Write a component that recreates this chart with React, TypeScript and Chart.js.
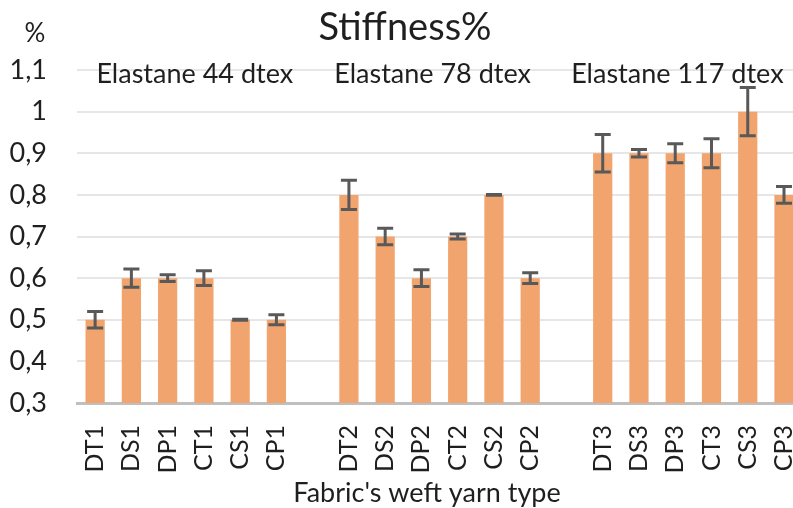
import React, { useEffect, useRef } from "react";
import { Chart, registerables } from "chart.js";

Chart.register(...registerables);

const categories = [
  "DT1", "DS1", "DP1", "CT1", "CS1", "CP1", "",
  "DT2", "DS2", "DP2", "CT2", "CS2", "CP2", "",
  "DT3", "DS3", "DP3", "CT3", "CS3", "CP3",
];
const stiffness = [
  0.5, 0.6, 0.6, 0.6, 0.5, 0.5, null,
  0.8, 0.7, 0.6, 0.7, 0.8, 0.6, null,
  0.9, 0.9, 0.9, 0.9, 1.0, 0.8,
];
const errors = [
  0.02, 0.022, 0.008, 0.018, 0.001, 0.012, null,
  0.035, 0.02, 0.02, 0.006, 0.001, 0.013, null,
  0.045, 0.009, 0.023, 0.035, 0.058, 0.02,
];
const groupLabels = ["Elastane 44 dtex", "Elastane 78 dtex", "Elastane 117 dtex"];
const groupRanges = [[0, 5], [7, 12], [14, 19]];
const groupOffsets = [9, -7, -16];
const yTicks = [0.3, 0.4, 0.5, 0.6, 0.7, 0.8, 0.9, 1.0, 1.1];
const chartTitle = "Stiffness%";
const yUnit = "%";
const xTitle = "Fabric's weft yarn type";

const FONT = "Lato, 'Open Sans', sans-serif";
const TEXT = "#1f1f1f";

const fmt = (v: number) => {
  const r = Math.round(v * 10) / 10;
  return Number.isInteger(r) ? String(r) : r.toFixed(1).replace(".", ",");
};

const overlay = {
  id: "overlay",
  afterDatasetsDraw(chart: any) {
    const ctx = chart.ctx;
    const y = chart.scales.y;
    const meta = chart.getDatasetMeta(0);
    ctx.save();
    ctx.strokeStyle = "#595959";
    ctx.lineWidth = 3;
    meta.data.forEach((bar: any, i: number) => {
      const v = stiffness[i];
      const e = errors[i];
      if (v == null || e == null) return;
      const top = y.getPixelForValue(v + e);
      const bot = y.getPixelForValue(v - e);
      const cx = bar.x;
      const half = 8;
      ctx.beginPath();
      ctx.moveTo(cx, top);
      ctx.lineTo(cx, bot);
      ctx.moveTo(cx - half, top);
      ctx.lineTo(cx + half, top);
      ctx.moveTo(cx - half, bot);
      ctx.lineTo(cx + half, bot);
      ctx.stroke();
    });
    ctx.restore();
  },
  afterDraw(chart: any) {
    const ctx = chart.ctx;
    const x = chart.scales.x;
    const y = chart.scales.y;
    ctx.save();
    ctx.fillStyle = TEXT;
    ctx.textBaseline = "alphabetic";
    ctx.textAlign = "center";
    ctx.font = `38px ${FONT}`;
    ctx.fillText(chartTitle, 405, 40);
    ctx.font = `26px ${FONT}`;
    ctx.fillText(yUnit, 35, 42);
    ctx.font = `27px ${FONT}`;
    groupLabels.forEach((g, k) => {
      const [a, b] = groupRanges[k];
      const cx = (x.getPixelForValue(a) + x.getPixelForValue(b)) / 2 + groupOffsets[k];
      ctx.fillText(g, cx, y.getPixelForValue(1.1) + 13);
    });
    ctx.fillText(xTitle, 427, 502);
    ctx.restore();
  },
};

export default function App() {
  const ref = useRef<HTMLCanvasElement>(null);
  useEffect(() => {
    if (!ref.current) return;
    const chart = new Chart(ref.current, {
      type: "bar",
      data: {
        labels: categories,
        datasets: [
          {
            data: stiffness as any,
            backgroundColor: "rgb(241,164,110)",
            borderWidth: 0,
            categoryPercentage: 1,
            barPercentage: 0.53,
          },
        ],
      },
      options: {
        animation: false,
        responsive: false,
        maintainAspectRatio: false,
        layout: { padding: { top: 70, right: 0, bottom: 0, left: 0 } },
        plugins: {
          legend: { display: false },
          title: { display: false },
          tooltip: { enabled: false },
        },
        scales: {
          x: {
            grid: { display: false },
            border: { display: true, color: "#BFBFBF", width: 3 },
            ticks: {
              autoSkip: false,
              minRotation: 90,
              maxRotation: 90,
              padding: 14,
              color: TEXT,
              font: { family: FONT, size: 25 },
            },
            afterFit(scale: any) {
              scale.height = 105;
            },
          },
          y: {
            min: 0.3,
            max: 1.1,
            afterBuildTicks(scale: any) {
              scale.ticks = yTicks.map((v) => ({ value: v }));
            },
            ticks: {
              padding: 30,
              color: TEXT,
              font: { family: FONT, size: 27 },
              callback: (v: any) => fmt(Number(v)),
            },
            grid: { color: "#E6E6E6", lineWidth: 2, drawTicks: false },
            border: { display: false },
            afterFit(scale: any) {
              scale.width = 77;
            },
          },
        },
      },
      plugins: [overlay],
    });
    return () => chart.destroy();
  }, []);
  return (
    <div
      style={{
        position: "fixed",
        left: 0,
        top: 0,
        width: 793,
        height: 508,
        overflow: "hidden",
        background: "#fff",
      }}
    >
      <canvas ref={ref} width={828} height={508} style={{ width: 828, height: 508, display: "block" }} />
    </div>
  );
}
